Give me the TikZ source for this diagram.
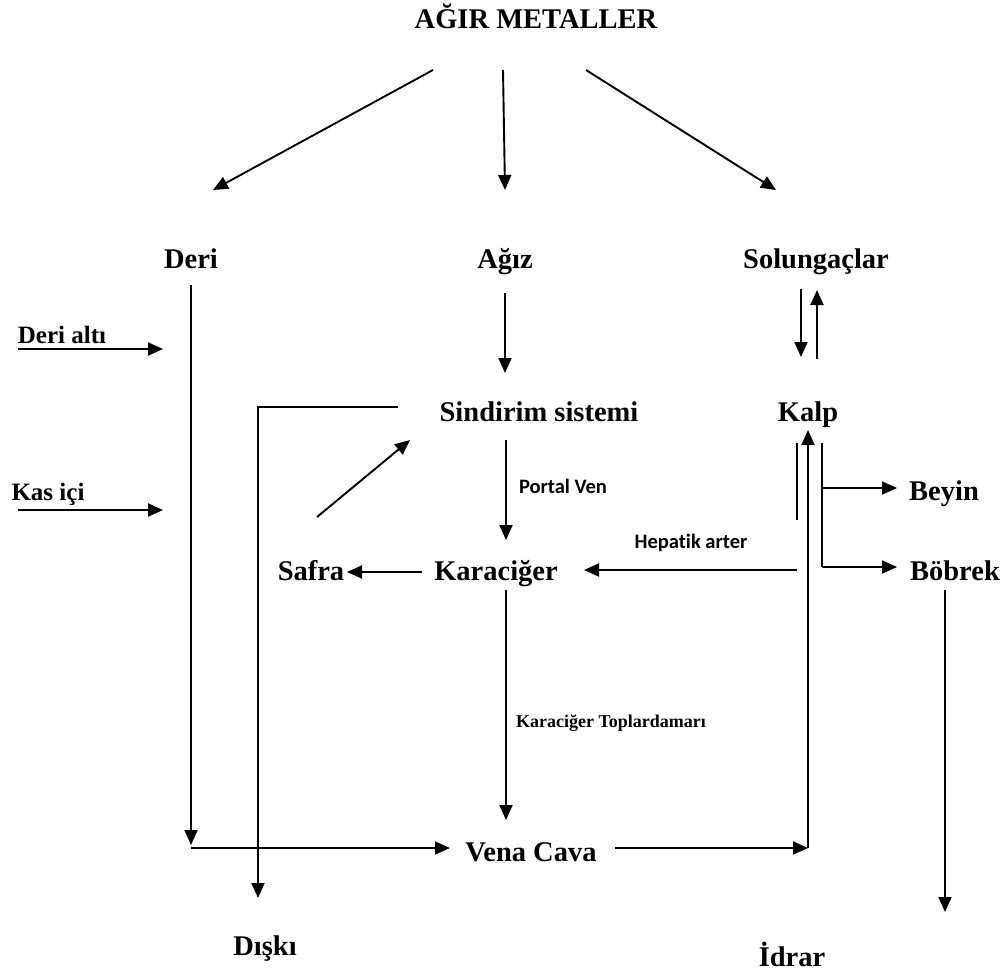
\documentclass[tikz,border=0pt]{standalone}
\usepackage{fontspec}
\setmainfont{Liberation Serif}
\newfontfamily\calfont[Ligatures=NoCommon]{Carlito}
\usetikzlibrary{arrows.meta}
\begin{document}
\begin{tikzpicture}[x=1pt,y=-1pt,
  big/.style={font=\fontsize{28.5}{31}\selectfont\bfseries, anchor=base, inner sep=0pt},
  mid/.style={font=\fontsize{25}{28}\selectfont\bfseries, anchor=base, inner sep=0pt},
  sm/.style={font=\calfont\fontsize{20.5}{23}\selectfont\bfseries, anchor=base, inner sep=0pt},
  smser/.style={font=\fontsize{18}{22}\selectfont\bfseries, anchor=base, inner sep=0pt},
  ln/.style={line width=1.9pt},
  ar/.style={ln, -{Triangle[length=15pt,width=13pt]}}]
\useasboundingbox (0,0) rectangle (1007,972);

% texts
\node[big] (agir) at (536,28) {AĞIR METALLER};
\node[big] (deri) at (191,268) {Deri};
\node[big] (agiz) at (505,268) {Ağız};
\node[big] (sol) at (816,268) {Solungaçlar};
\node[big] (sind) at (539,421) {Sindirim sistemi};
\node[big] (kalp) at (808,421) {Kalp};
\node[big] (beyin) at (944,500) {Beyin};
\node[big] (bobrek) at (955,580) {Böbrek};
\node[big] (safra) at (311,580) {Safra};
\node[big] (karac) at (496,580) {Karaciğer};
\node[big] (vena) at (531,861) {Vena Cava};
\node[big] (diski) at (265,955) {Dışkı};
\node[big] (idrar) at (792,966) {İdrar};
\node[mid] (derialti) at (62,343) {Deri altı};
\node[mid] (kasici) at (48,500) {Kas içi};
\node[sm] (portal) at (563,493) {Portal Ven};
\node[sm] (hepatik) at (691,548) {Hepatik arter};
\node[smser] (toplar) at (611,727) {Karaciğer Toplardamarı};

% coordinates
\coordinate (a1s) at (433,70);  \coordinate (a1e) at (213,190);
\coordinate (a2s) at (503,70);  \coordinate (a2e) at (505,190);
\coordinate (a3s) at (586,70);  \coordinate (a3e) at (776,190);
\coordinate (d1) at (191,285);  \coordinate (d2) at (191,845);
\coordinate (d3) at (191,848);  \coordinate (d4) at (450,848);
\coordinate (da1) at (18,349);  \coordinate (da2) at (163,349);
\coordinate (ki1) at (18,510);  \coordinate (ki2) at (163,510);
\coordinate (ag1) at (505,293); \coordinate (ag2) at (505,373);
\coordinate (s1) at (398,407);  \coordinate (s2) at (258,407); \coordinate (s3) at (258,898);
\coordinate (pv1) at (506,440); \coordinate (pv2) at (506,540);
\coordinate (sf1) at (317,517); \coordinate (sf2) at (410,440);
\coordinate (ks1) at (422,572); \coordinate (ks2) at (347,572);
\coordinate (h1) at (797,570);  \coordinate (h2) at (584,570);
\coordinate (kt1) at (506,590); \coordinate (kt2) at (506,820);
\coordinate (v1) at (615,848);  \coordinate (v2) at (808,848);
\coordinate (k1) at (808,430);
\coordinate (l1) at (797,443);  \coordinate (l2) at (797,520);
\coordinate (r1) at (822,443);  \coordinate (r2) at (822,488); \coordinate (r3) at (822,567);
\coordinate (be) at (897,488);  \coordinate (bo) at (897,567);
\coordinate (sd1) at (801,289); \coordinate (sd2) at (801,357);
\coordinate (su1) at (817,359); \coordinate (su2) at (817,290);
\coordinate (b1) at (945,590);  \coordinate (b2) at (945,912);

% connectors
\draw[ar] (a1s) -- (a1e);
\draw[ar] (a2s) -- (a2e);
\draw[ar] (a3s) -- (a3e);
\draw[ar] (d1) -- (d2);
\draw[ar] (d3) -- (d4);
\draw[ar] (da1) -- (da2);
\draw[ar] (ki1) -- (ki2);
\draw[ar] (ag1) -- (ag2);
\draw[ar] (s1) -- (s2) -- (s3);
\draw[ar] (pv1) -- (pv2);
\draw[ar] (sf1) -- (sf2);
\draw[ar] (ks1) -- (ks2);
\draw[ar] (h1) -- (h2);
\draw[ar] (kt1) -- (kt2);
\draw[ar] (v1) -- (v2);
\draw[ar] (v2) -- (k1);
\draw[ln] (l1) -- (l2);
\draw[ln] (r1) -- (r3);
\draw[ar] (r2) -- (be);
\draw[ar] (r3) -- (bo);
\draw[ar] (sd1) -- (sd2);
\draw[ar] (su1) -- (su2);
\draw[ar] (b1) -- (b2);
\end{tikzpicture}
\end{document}
